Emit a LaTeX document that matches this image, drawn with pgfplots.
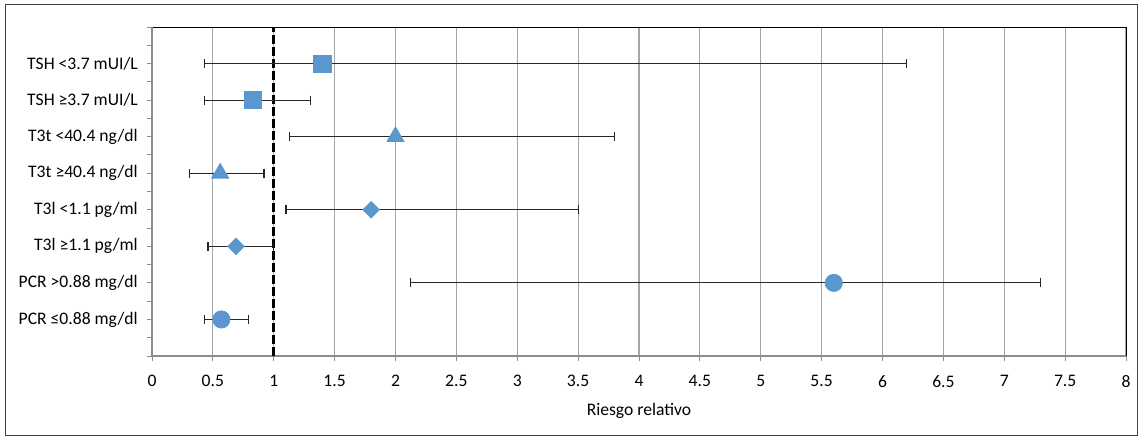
\documentclass[border=0pt]{standalone}
\usepackage{fontspec}
\setmainfont{Carlito}
\usepackage{pgfplots}
\pgfplotsset{compat=1.18}
\definecolor{mk}{HTML}{5B97CF}
\definecolor{gridc}{HTML}{A6A6A6}
\definecolor{axc}{HTML}{8C8C8C}
\definecolor{errc}{HTML}{262626}
\begin{document}
\fontsize{8.8}{10}\selectfont
\begin{tikzpicture}
\useasboundingbox (0,0) rectangle (571.5pt,-219pt);
\draw[black!75, line width=0.5pt] (2.5pt,-2.5pt) rectangle (568.5pt,-217.5pt);
\begin{axis}[
  at={(76pt,-178pt)}, anchor=south west,
  scale only axis, width=487pt, height=164.5pt,
  xmin=0, xmax=8, ymin=0, ymax=9,
  axis line style={draw=none},
  xtick={0,0.5,1,1.5,2,2.5,3,3.5,4,4.5,5,5.5,6,6.5,7,7.5,8},
  ytick={0,1,2,3,4,5,6,7,8,9},
  minor ytick={0.5,1.5,2.5,3.5,4.5,5.5,6.5,7.5,8.5},
  yticklabels={,PCR ≤0.88 mg/dl,PCR >0.88 mg/dl,T3l ≥1.1 pg/ml,T3l <1.1 pg/ml,T3t ≥40.4 ng/dl,T3t <40.4 ng/dl,TSH ≥3.7 mUI/L,TSH <3.7 mUI/L,},
  xmajorgrids, ymajorgrids=false,
  major grid style={gridc, line width=0.55pt},
  tick align=outside, major tick length=2.5pt, minor tick length=2.5pt,
  tick style={axc, line width=0.5pt},
  xtick pos=left, ytick pos=left,
  xlabel={Riesgo relativo},
  xlabel style={yshift=-2pt},
  xticklabel style={yshift=-4pt},
  yticklabel style={xshift=-1.5pt},
  /pgf/number format/assume math mode=true,
  ticklabel style={font=\fontsize{8.8}{10}\selectfont},
  label style={font=\fontsize{8.8}{10}\selectfont},
  clip=false,
  error bars/error mark=|,
  error bars/error bar style={errc, line width=0.6pt},
  error bars/error mark options={errc, line width=0.6pt, mark size=2.25pt},
]
\draw[black, line width=0.5pt] (rel axis cs:0,1) -- (rel axis cs:1,1) -- (rel axis cs:1,0);
\draw[axc, line width=0.6pt] (rel axis cs:0,1) -- (rel axis cs:0,0) -- (rel axis cs:1,0);
\addplot[black, line width=1.5pt, dash pattern=on 4.5pt off 1.5pt] coordinates {(1,0) (1,9)};
\addplot[only marks, mark=square*, mark size=4.3pt, color=mk,
  error bars/.cd, x dir=both, x explicit] coordinates {
  (1.40,8) += (4.80,0) -= (0.97,0)
  (0.83,7) += (0.47,0) -= (0.40,0)
};
\addplot[only marks, mark=triangle*, mark size=4.9pt, color=mk,
  error bars/.cd, x dir=both, x explicit] coordinates {
  (2.00,6) += (1.80,0) -= (0.87,0)
  (0.56,5) += (0.36,0) -= (0.25,0)
};
\addplot[only marks, mark=square*, mark size=2.9pt, mark options={rotate=45}, color=mk,
  error bars/.cd, x dir=both, x explicit] coordinates {
  (1.80,4) += (1.70,0) -= (0.70,0)
  (0.69,3) += (0.31,0) -= (0.23,0)
};
\addplot[only marks, mark=*, mark size=4.3pt, color=mk,
  error bars/.cd, x dir=both, x explicit] coordinates {
  (5.60,2) += (1.70,0) -= (3.48,0)
  (0.57,1) += (0.22,0) -= (0.14,0)
};
\end{axis}
\end{tikzpicture}
\end{document}
